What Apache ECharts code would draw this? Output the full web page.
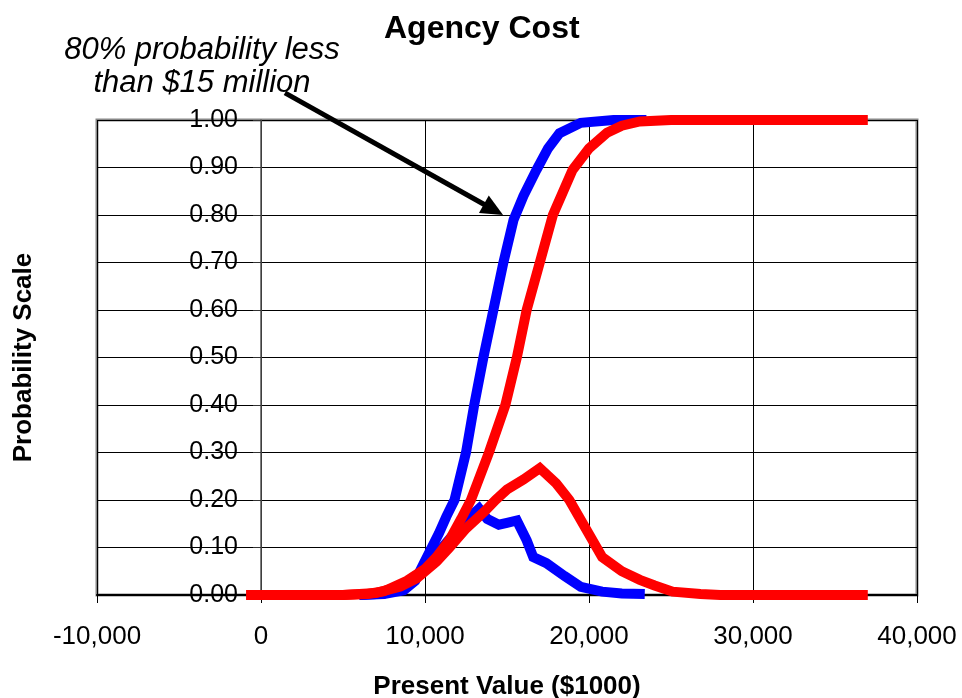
<!DOCTYPE html>
<html>
<head>
<meta charset="utf-8">
<script src="https://cdn.jsdelivr.net/npm/echarts@6/dist/echarts.min.js"></script>
<style>
  html, body { margin: 0; padding: 0; background: #fff; }
  #chart { width: 962px; height: 698px; }
</style>
</head>
<body>
<div id="chart"></div>
<script>
// present value ($1000) and probability
const blueCumX = [6000, 7500, 8700, 9400, 9900, 10850, 11300, 11800, 12500, 13000, 13560, 14170, 14780, 15400, 16000, 16800, 17500, 18200, 19500, 21500, 23500]
const blueCumP = [0, 0.002, 0.01, 0.03, 0.065, 0.13, 0.165, 0.2, 0.3, 0.4, 0.5, 0.6, 0.7, 0.79, 0.84, 0.895, 0.94, 0.972, 0.994, 1.0, 1.0]

const blueFreqX = [6000, 7500, 8700, 9800, 10800, 11800, 12600, 13300, 13800, 14500, 15000, 15600, 16200, 16600, 17400, 18500, 19500, 20800, 22000, 23400]
const blueFreqP = [0, 0.003, 0.02, 0.05, 0.09, 0.13, 0.16, 0.182, 0.16, 0.148, 0.152, 0.157, 0.115, 0.08, 0.067, 0.04, 0.017, 0.007, 0.003, 0.002]

const redCumX = [-900, 5000, 6500, 7500, 8900, 10000, 10700, 11500, 12200, 12800, 13900, 14900, 15600, 16200, 17000, 17800, 19000, 20000, 21100, 22000, 23100, 25000, 27000, 37000]
const redCumP = [0, 0, 0.002, 0.008, 0.03, 0.055, 0.08, 0.116, 0.16, 0.2, 0.3, 0.4, 0.5, 0.6, 0.7, 0.8, 0.895, 0.94, 0.973, 0.988, 0.997, 1.0, 1.0, 1.0]

const redFreqX = [-900, 5000, 7000, 8500, 9500, 10700, 11500, 12500, 13600, 14300, 15000, 16000, 17000, 18000, 18800, 19800, 20800, 22000, 23100, 24000, 25100, 26800, 28000, 37000]
const redFreqP = [0, 0, 0.004, 0.018, 0.035, 0.07, 0.1, 0.14, 0.175, 0.2, 0.222, 0.243, 0.267, 0.235, 0.2, 0.14, 0.08, 0.05, 0.032, 0.02, 0.007, 0.002, 0, 0]

const xTicks = [-10000, 0, 10000, 20000, 30000, 40000]
const yTicks = [0, 0.1, 0.2, 0.3, 0.4, 0.5, 0.6, 0.7, 0.8, 0.9, 1.0]

// annotation arrow, in chart units
const arrowFrom = [1460, 1.057]
const arrowTo = [14760, 0.80]

const pairs = (xs, ys) => xs.map((x, i) => [x, ys[i]])
const FONT = 'Liberation Sans, Arial, sans-serif'

const chart = echarts.init(document.getElementById('chart'))

const mkLine = (name, color, data) => ({
  name,
  type: 'line',
  data,
  symbol: 'none',
  showSymbol: false,
  lineStyle: { color, width: 10, join: 'miter' },
  itemStyle: { color },
  emphasis: { disabled: true }
})

const option = {
  animation: false,
  backgroundColor: '#fff',
  title: [
    {
      text: 'Agency Cost',
      left: 379,
      top: 8,
      textStyle: { fontFamily: FONT, fontSize: 32, fontWeight: 'bold', color: '#000' }
    },
    {
      text: '80% probability less\nthan $15 million',
      left: 197,
      top: 29,
      textAlign: 'center',
      textStyle: { fontFamily: FONT, fontSize: 31, fontStyle: 'italic', fontWeight: 'normal', color: '#000', lineHeight: 33 }
    }
  ],
  grid: {
    left: 97,
    right: 45,
    top: 120,
    bottom: 103,
    show: true,
    borderColor: '#888',
    borderWidth: 3,
    containLabel: false,
    outerBoundsMode: 'none'
  },
  xAxis: {
    type: 'value',
    min: xTicks[0],
    max: xTicks[xTicks.length - 1],
    interval: 10000,
    name: 'Present Value ($1000)',
    nameLocation: 'middle',
    nameGap: 79,
    nameTextStyle: { fontFamily: FONT, fontSize: 26, fontWeight: 'bold', color: '#000' },
    axisLine: { show: true, onZero: false, lineStyle: { color: '#000', width: 2 } },
    axisTick: { show: true, length: 8, lineStyle: { color: '#000', width: 1 } },
    axisLabel: {
      margin: 29,
      fontFamily: FONT,
      fontSize: 26,
      color: '#000',
      formatter: v => v.toLocaleString('en-US')
    },
    splitLine: { show: true, lineStyle: { color: '#000', width: 1 } }
  },
  yAxis: {
    type: 'value',
    min: yTicks[0],
    max: yTicks[yTicks.length - 1],
    interval: 0.1,
    // y axis sits on x = 0, i.e. one tick step in from the left edge
    offset: -164,
    name: 'Probability Scale',
    nameLocation: 'middle',
    nameGap: 224,
    nameTextStyle: { fontFamily: FONT, fontSize: 26, fontWeight: 'bold', color: '#000' },
    axisLine: { show: true, onZero: false, lineStyle: { color: '#555', width: 1.5 } },
    axisTick: { show: true, length: 8, lineStyle: { color: '#333', width: 1 } },
    axisLabel: {
      margin: 23,
      fontFamily: FONT,
      fontSize: 25,
      color: '#000',
      formatter: v => v.toFixed(2)
    },
    splitLine: { show: true, lineStyle: { color: '#000', width: 1 } }
  },
  series: [
    mkLine('blue cumulative', '#0000ff', pairs(blueCumX, blueCumP)),
    mkLine('blue frequency', '#0000ff', pairs(blueFreqX, blueFreqP)),
    mkLine('red cumulative', '#ff0000', pairs(redCumX, redCumP)),
    mkLine('red frequency', '#ff0000', pairs(redFreqX, redFreqP))
  ]
}

chart.setOption(option)

// arrow annotation placed through the grid's own scales
const p0 = chart.convertToPixel({ gridIndex: 0 }, arrowFrom)
const p1 = chart.convertToPixel({ gridIndex: 0 }, arrowTo)
const dx = p1[0] - p0[0], dy = p1[1] - p0[1]
const len = Math.sqrt(dx * dx + dy * dy)
const ux = dx / len, uy = dy / len
const headLen = 22, headHalf = 10
const bx = p1[0] - ux * headLen, by = p1[1] - uy * headLen

chart.setOption({
  graphic: [
    {
      type: 'line',
      z: 100,
      shape: { x1: p0[0], y1: p0[1], x2: bx + ux * 2, y2: by + uy * 2 },
      style: { stroke: '#000', lineWidth: 5 }
    },
    {
      type: 'polygon',
      z: 100,
      shape: {
        points: [
          [p1[0], p1[1]],
          [bx - uy * headHalf, by + ux * headHalf],
          [bx + uy * headHalf, by - ux * headHalf]
        ]
      },
      style: { fill: '#000' }
    }
  ]
})
</script>
</body>
</html>
